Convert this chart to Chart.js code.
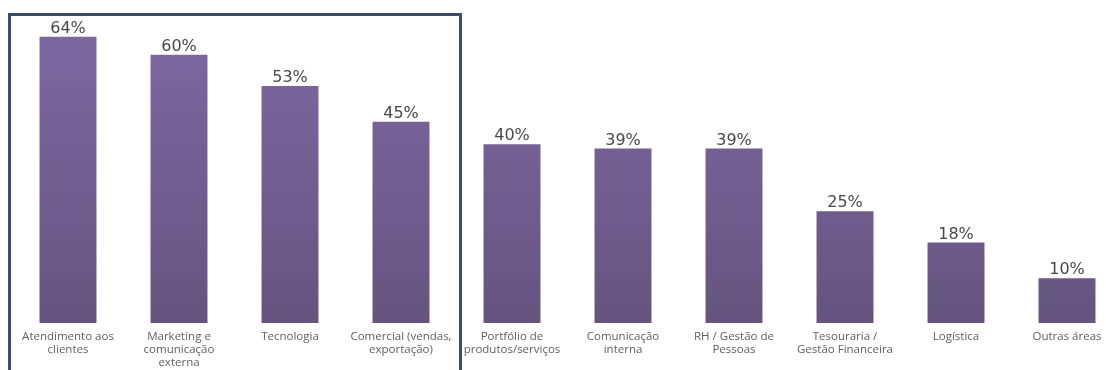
<!DOCTYPE html>
<html>
<head>
<meta charset="utf-8">
<script src="https://cdn.jsdelivr.net/npm/chart.js@4/dist/chart.umd.min.js"></script>
<style>
  html, body { margin: 0; padding: 0; background: #fff; overflow: hidden; }
  #wrap { position: relative; width: 1106px; height: 370px; overflow: hidden; }
  #c { position: absolute; left: 0; top: 0; }
  #box { position: absolute; left: 8px; top: 13px; width: 448px; height: 380px;
         border: 3px solid #3a4d6f; border-bottom: none; pointer-events: none; }
</style>
</head>
<body>
<div id="wrap">
  <canvas id="c" width="1124" height="370"></canvas>
  <div id="box"></div>
</div>
<script>
// áreas e percentuais
const categories = [
  ['Atendimento aos', 'clientes'],
  ['Marketing e', 'comunicação', 'externa'],
  'Tecnologia',
  ['Comercial (vendas,', 'exportação)'],
  ['Portfólio de', 'produtos/serviços'],
  ['Comunicação', 'interna'],
  ['RH / Gestão de', 'Pessoas'],
  ['Tesouraria /', 'Gestão Financeira'],
  'Logística',
  'Outras áreas'
];
const values = [64, 60, 53, 45, 40, 39, 39, 25, 18, 10];

// rótulos de valor em cima das barras
const valueLabels = {
  id: 'valueLabels',
  afterDatasetsDraw(chart) {
    const ctx = chart.ctx;
    const meta = chart.getDatasetMeta(0);
    ctx.save();
    ctx.font = '16px "DejaVu Sans"';
    ctx.fillStyle = '#484848';
    ctx.textAlign = 'center';
    ctx.textBaseline = 'alphabetic';
    meta.data.forEach((bar, i) => {
      ctx.fillText(values[i] + '%', bar.x, bar.y - 4);
    });
    ctx.restore();
  }
};

function barFill(context) {
  const area = context.chart.chartArea;
  if (!area) return '#735d95';
  const g = context.chart.ctx.createLinearGradient(0, area.top + 27, 0, area.bottom);
  g.addColorStop(0, '#7d67a1');
  g.addColorStop(1, '#66547f');
  return g;
}

new Chart(document.getElementById('c'), {
  type: 'bar',
  data: {
    labels: categories,
    datasets: [{
      data: values,
      backgroundColor: barFill,
      borderWidth: 0,
      categoryPercentage: 1.0,
      barPercentage: 0.513
    }]
  },
  options: {
    responsive: false,
    animation: false,
    layout: { padding: { left: 12.5, right: 1.5, top: 10, bottom: 0 } },
    plugins: { legend: { display: false }, tooltip: { enabled: false } },
    scales: {
      x: {
        grid: { display: false, drawTicks: false },
        border: { display: false },
        ticks: {
          color: '#606060',
          font: { family: '"Open Sans"', size: 11.5, lineHeight: 1.13 },
          padding: 7,
          maxRotation: 0,
          autoSkip: false
        },
        afterFit: (scale) => { scale.height = 47; }
      },
      y: {
        display: false,
        min: 0,
        max: 70
      }
    }
  },
  plugins: [valueLabels]
});
</script>
</body>
</html>
